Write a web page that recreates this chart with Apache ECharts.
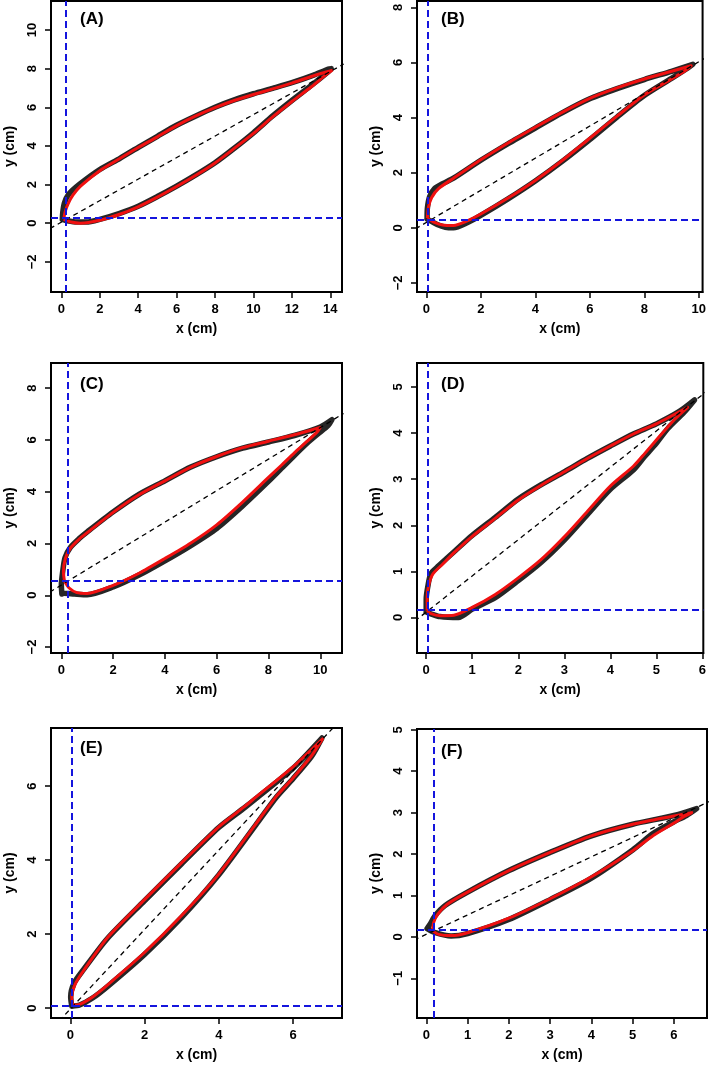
<!DOCTYPE html>
<html>
<head>
<meta charset="utf-8">
<script src="https://cdn.jsdelivr.net/npm/echarts@6/dist/echarts.min.js"></script>
<style>html,body{margin:0;background:#fff}#main{width:709px;height:1067px}</style>
</head>
<body>
<div id="main"></div>
<script>
// leaf outlines: observed (black) and fitted (red), base -> tip along upper edge, back along lower edge
var panelNames = ['(A)', '(B)', '(C)', '(D)', '(E)', '(F)'];

var obsA = [[0.05,0.2],[0.07,0.55],[0.16,1.05],[0.38,1.5],[0.95,2.02],[2.0,2.78],[3.05,3.36],[4.05,3.95],[5.0,4.5],[6.0,5.07],[7.0,5.55],[8.0,6.0],[9.0,6.38],[10.0,6.7],[11.0,6.98],[12.0,7.27],[13.1,7.65],[13.9,7.98],[14.05,8.0],
  [13.9,7.85],[13.1,7.2],[12.0,6.35],[11.0,5.55],[10.0,4.68],[9.0,3.88],[8.0,3.13],[7.0,2.5],[6.0,1.92],[5.0,1.38],[4.0,0.88],[3.0,0.5],[2.0,0.2],[1.3,0.06],[0.8,0.06],[0.3,0.13],[0.05,0.2]];
var fitA = [[0.12,0.2],[0.2,0.6],[0.35,1.0],[0.6,1.45],[1.0,1.92],[2.0,2.72],[3.0,3.32],[4.0,3.92],[5.0,4.47],[6.0,5.05],[7.0,5.55],[8.0,5.98],[9.0,6.35],[10.0,6.66],[11.0,6.95],[12.0,7.25],[13.1,7.62],[14.08,7.9],
  [13.8,7.7],[13.0,7.05],[12.0,6.3],[11.0,5.5],[10.0,4.65],[9.0,3.87],[8.0,3.12],[7.0,2.48],[6.0,1.9],[5.0,1.35],[4.0,0.85],[3.0,0.45],[2.0,0.15],[1.0,0.0],[0.5,0.06],[0.12,0.2]];

var obsB = [[0.03,0.32],[0.04,0.7],[0.12,1.12],[0.3,1.42],[0.6,1.6],[1.0,1.8],[2.0,2.45],[3.0,3.05],[4.0,3.62],[5.0,4.18],[6.0,4.68],[7.0,5.05],[8.0,5.38],[9.0,5.68],[9.78,5.93],
  [9.6,5.8],[9.0,5.42],[8.0,4.8],[7.0,4.02],[6.0,3.2],[5.0,2.42],[4.0,1.7],[3.0,1.05],[2.0,0.45],[1.5,0.18],[1.0,0.0],[0.7,0.02],[0.4,0.12],[0.1,0.28],[0.03,0.32]];
var fitB = [[0.04,0.35],[0.08,0.75],[0.2,1.1],[0.45,1.42],[1.0,1.8],[2.0,2.47],[3.0,3.08],[4.0,3.65],[5.0,4.2],[6.0,4.7],[7.0,5.08],[8.0,5.4],[9.0,5.68],[9.72,5.88],
  [9.5,5.7],[9.0,5.4],[8.0,4.82],[7.0,4.05],[6.0,3.25],[5.0,2.45],[4.0,1.72],[3.0,1.08],[2.0,0.5],[1.5,0.25],[1.0,0.08],[0.6,0.1],[0.3,0.2],[0.04,0.35]];

var obsC = [[0.02,0.05],[0.0,0.4],[0.05,0.9],[0.14,1.45],[0.35,1.85],[0.7,2.2],[1.0,2.45],[2.0,3.22],[3.0,3.9],[4.0,4.42],[5.0,4.95],[6.0,5.35],[7.0,5.68],[8.0,5.92],[9.0,6.17],[10.0,6.5],[10.45,6.78],
  [10.3,6.55],[9.9,6.22],[9.5,5.88],[9.0,5.4],[8.5,4.9],[8.0,4.4],[7.0,3.45],[6.0,2.58],[5.0,1.92],[4.0,1.33],[3.0,0.78],[2.0,0.32],[1.0,0.02],[0.5,0.05],[0.1,0.08],[0.02,0.05]];
var fitC = [[0.12,0.55],[0.08,0.9],[0.15,1.4],[0.35,1.82],[0.7,2.18],[1.0,2.42],[2.0,3.2],[3.0,3.88],[4.0,4.42],[5.0,4.95],[6.0,5.36],[7.0,5.7],[8.0,5.95],[9.0,6.2],[10.0,6.48],
  [9.9,6.33],[9.5,5.95],[9.0,5.5],[8.5,5.02],[8.0,4.55],[7.0,3.6],[6.0,2.72],[5.0,2.02],[4.0,1.42],[3.0,0.85],[2.0,0.38],[1.0,0.07],[0.6,0.1],[0.3,0.28],[0.12,0.55]];

var obsD = [[0.0,0.12],[0.0,0.4],[0.04,0.7],[0.1,0.95],[0.27,1.12],[0.6,1.42],[1.0,1.78],[1.5,2.17],[2.0,2.57],[2.5,2.88],[3.0,3.16],[3.5,3.45],[4.0,3.72],[4.5,3.98],[5.0,4.2],[5.5,4.47],[5.83,4.72],
  [5.6,4.45],[5.25,4.1],[5.0,3.78],[4.75,3.5],[4.5,3.2],[4.0,2.78],[3.5,2.23],[3.0,1.68],[2.5,1.2],[2.0,0.8],[1.5,0.43],[1.0,0.18],[0.7,0.0],[0.3,0.02],[0.1,0.08],[0.0,0.12]];
var fitD = [[0.02,0.15],[0.02,0.45],[0.06,0.72],[0.15,0.95],[0.35,1.15],[0.6,1.4],[1.0,1.76],[1.5,2.15],[2.0,2.55],[2.5,2.87],[3.0,3.16],[3.5,3.45],[4.0,3.72],[4.5,3.98],[5.0,4.2],[5.68,4.56],
  [5.4,4.3],[5.0,3.85],[4.75,3.56],[4.5,3.28],[4.0,2.85],[3.5,2.3],[3.0,1.75],[2.5,1.26],[2.0,0.86],[1.5,0.5],[1.0,0.22],[0.6,0.05],[0.3,0.04],[0.09,0.09],[0.02,0.15]];

var obsE = [[0.04,0.05],[0.01,0.3],[0.1,0.67],[0.35,1.03],[1.0,1.88],[2.0,2.9],[3.0,3.9],[4.0,4.88],[4.7,5.42],[5.0,5.66],[6.0,6.48],[6.78,7.3],
  [6.5,6.8],[6.0,6.2],[5.55,5.7],[5.0,4.95],[4.0,3.6],[3.0,2.45],[2.0,1.45],[1.0,0.58],[0.6,0.27],[0.25,0.08],[0.04,0.05]];
var fitE = [[0.06,0.08],[0.04,0.3],[0.12,0.62],[0.35,1.0],[1.0,1.9],[2.0,2.93],[3.0,3.93],[4.0,4.9],[4.7,5.45],[5.0,5.7],[6.0,6.52],[6.8,7.28],
  [6.5,6.82],[6.0,6.22],[5.55,5.72],[5.0,4.98],[4.0,3.62],[3.0,2.5],[2.0,1.5],[1.0,0.62],[0.6,0.3],[0.25,0.1],[0.06,0.08]];

var obsF = [[0.02,0.2],[0.1,0.32],[0.22,0.52],[0.46,0.76],[1.0,1.08],[2.0,1.6],[3.0,2.04],[4.0,2.44],[5.0,2.72],[6.0,2.93],[6.55,3.1],
  [6.3,2.93],[6.0,2.78],[5.5,2.5],[5.0,2.1],[4.0,1.42],[3.0,0.9],[2.0,0.42],[1.0,0.08],[0.6,0.02],[0.22,0.1],[0.02,0.2]];
var fitF = [[0.15,0.15],[0.18,0.35],[0.28,0.55],[0.5,0.78],[1.0,1.08],[2.0,1.6],[3.0,2.04],[4.0,2.44],[5.0,2.72],[6.0,2.92],[6.43,3.0],
  [6.2,2.88],[6.0,2.75],[5.5,2.45],[5.0,2.08],[4.0,1.45],[3.0,0.92],[2.0,0.45],[1.0,0.1],[0.6,0.03],[0.3,0.06],[0.15,0.15]];

// dashed diagonal through base and tip, read at the plot edges
var diagA = [[-0.6,-0.28],[14.7,8.24]];
var diagB = [[-0.4,-0.04],[10.2,6.14]];
var diagC = [[-0.45,0.12],[10.9,7.02]];
var diagD = [[-0.25,-0.08],[6.1,4.91]];
var diagE = [[-0.3,-0.35],[7.4,7.92]];
var diagF = [[-0.3,-0.08],[6.9,3.29]];

// blue dashed reference lines (x = v, y = h)
var vLines = [0.24, 0.06, 0.24, 0.04, 0.04, 0.17];
var hLines = [0.26, 0.31, 0.55, 0.16, 0.07, 0.16];

// axis ranges and tick values
var xRanges = [[-0.54,14.61],[-0.34,10.14],[-0.4,10.84],[-0.2,6.02],[-0.52,7.32],[-0.225,6.8]];
var yRanges = [[-3.56,11.5],[-2.33,8.23],[-2.23,8.97],[-0.77,5.52],[-0.27,7.57],[-1.96,5.02]];
var xTicks = [[0,2,4,6,8,10,12,14],[0,2,4,6,8,10],[0,2,4,6,8,10],[0,1,2,3,4,5,6],[0,2,4,6],[0,1,2,3,4,5,6]];
var yTicks = [[-2,0,2,4,6,8,10],[-2,0,2,4,6,8],[-2,0,2,4,6,8],[0,1,2,3,4,5],[0,2,4,6],[-1,0,1,2,3,4,5]];

var obsAll = [obsA, obsB, obsC, obsD, obsE, obsF];
var fitAll = [fitA, fitB, fitC, fitD, fitE, fitF];
var diagAll = [diagA, diagB, diagC, diagD, diagE, diagF];

var boxes = [
  {left: 51, top: 1, width: 291, height: 291},
  {left: 417, top: 1, width: 288, height: 291},
  {left: 51, top: 363, width: 291, height: 290},
  {left: 417, top: 363, width: 288, height: 290},
  {left: 51, top: 728, width: 291, height: 290},
  {left: 417, top: 729, width: 290, height: 289}
];
var labelPos = [[80,11],[441,11],[80,376],[441,376],[80,740],[441,743]];

var font = '"Liberation Sans", Arial, sans-serif';
function fmt(v) { return v < 0 ? '\u2212' + (-v) : String(v); }

var grid = [], xAxis = [], yAxis = [], series = [], title = [];
for (var i = 0; i < 6; i++) {
  grid.push({left: boxes[i].left, top: boxes[i].top, width: boxes[i].width, height: boxes[i].height,
    show: true, borderColor: '#000', borderWidth: 2, backgroundColor: 'transparent'});
  xAxis.push({
    type: 'value', gridIndex: i, min: xRanges[i][0], max: xRanges[i][1],
    name: 'x (cm)', nameLocation: 'middle', nameGap: 30,
    nameTextStyle: {fontSize: 14, fontWeight: 'bold', color: '#000', fontFamily: font},
    axisLine: {show: true, onZero: false, lineStyle: {color: '#000', width: 2}}, splitLine: {show: false},
    axisTick: {show: true, inside: false, length: 6, customValues: xTicks[i], lineStyle: {color: '#000', width: 1.5}},
    axisLabel: {customValues: xTicks[i], formatter: fmt, margin: 11, fontSize: 13, fontWeight: 'bold', color: '#000', fontFamily: font}
  });
  yAxis.push({
    type: 'value', gridIndex: i, min: yRanges[i][0], max: yRanges[i][1],
    name: 'y (cm)', nameLocation: 'middle', nameGap: 34,
    nameTextStyle: {fontSize: 14, fontWeight: 'bold', color: '#000', fontFamily: font},
    axisLine: {show: true, onZero: false, lineStyle: {color: '#000', width: 2}}, splitLine: {show: false},
    axisTick: {show: true, inside: false, length: 6, customValues: yTicks[i], lineStyle: {color: '#000', width: 1.5}},
    axisLabel: {customValues: yTicks[i], formatter: fmt, rotate: 90, margin: 12, fontSize: 13, fontWeight: 'bold', color: '#000', fontFamily: font}
  });
  series.push({
    type: 'line', xAxisIndex: i, yAxisIndex: i, data: obsAll[i], showSymbol: false, smooth: 0.25,
    lineStyle: {color: '#262626', width: 5.5, join: 'round', cap: 'round'}, silent: true
  });
  series.push({
    type: 'line', xAxisIndex: i, yAxisIndex: i, data: fitAll[i], showSymbol: false, smooth: 0.25,
    lineStyle: {color: '#f01010', width: 3, join: 'round'}, silent: true
  });
  series.push({
    type: 'line', xAxisIndex: i, yAxisIndex: i, data: diagAll[i], showSymbol: false, clip: true,
    lineStyle: {color: '#000', width: 1.3, type: [5, 4]}, silent: true,
    markLine: {
      silent: true, symbol: ['none', 'none'], label: {show: false},
      lineStyle: {color: '#1515dd', width: 2, type: [7, 4]},
      data: [{xAxis: vLines[i]}, {yAxis: hLines[i]}]
    }
  });
  title.push({text: panelNames[i], left: labelPos[i][0], top: labelPos[i][1], padding: 0,
    textStyle: {fontSize: 17, fontWeight: 'bold', color: '#000', fontFamily: font}});
}

var myChart = echarts.init(document.getElementById('main'));
myChart.setOption({
  animation: false,
  backgroundColor: '#fff',
  title: title,
  grid: grid,
  xAxis: xAxis,
  yAxis: yAxis,
  series: series
});
</script>
</body>
</html>
